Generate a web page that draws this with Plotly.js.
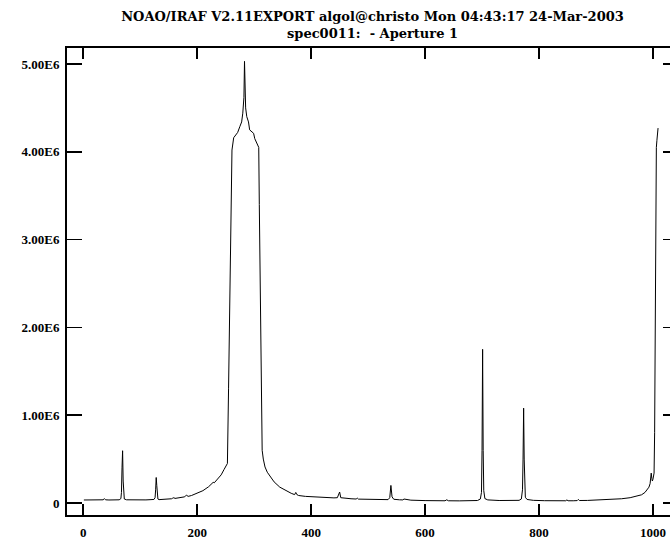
<!DOCTYPE html>
<html>
<head>
<meta charset="utf-8">
<script src="https://cdn.plot.ly/plotly-3.0.1.min.js"></script>
<style>
html, body { margin: 0; padding: 0; overflow: hidden; background: #fff; }
#chart { width: 690px; height: 540px; }
</style>
</head>
<body>
<div id="chart"></div>
<script>
// Pixel (column) coordinates of the spectrum samples
const pixel = [1, 10, 20, 30, 35, 37, 39, 45, 55, 63, 66, 67, 68, 69, 70, 71, 72, 76, 90, 110,
  124, 126, 127, 128, 129, 130, 131, 133, 145, 155, 157, 159, 161, 170, 178, 181, 184, 190, 200, 210,
  220, 226, 228, 230, 236, 242, 247, 250, 253, 255, 257, 258, 259, 261, 264, 268, 271, 275, 278, 280,
  281, 282, 283, 284, 285, 287, 290, 292, 296, 299, 301, 304, 306, 308, 309, 310, 312, 313, 314, 316,
  319, 323, 328, 335, 345, 355, 365, 371, 373, 375, 378, 390, 405, 425, 440, 446, 448, 450, 452, 460,
  470, 479, 481, 483, 495, 515, 535, 538, 540, 542, 545, 555, 561, 563, 575, 600, 620, 635, 638, 641,
  660, 680, 692, 697, 699, 700, 701, 702, 703, 705, 710, 730, 750, 765, 769, 771, 772, 773, 774, 775,
  776, 779, 790, 810, 830, 847, 849, 851, 860, 867, 869, 871, 885, 905, 925, 945, 960, 970, 980, 986,
  990, 993, 995, 996, 997, 998, 999, 1000, 1001, 1002, 1003, 1004, 1005, 1006, 1007, 1008, 1009];

// Flux values (counts)
const flux = [34000, 34000, 33000, 34000, 36000, 50000, 36000, 34000, 34000, 36000, 50000, 120000, 400000, 595000, 250000, 80000, 45000, 36000, 34000, 35000,
  40000, 60000, 150000, 290000, 200000, 70000, 45000, 38000, 42000, 48000, 55000, 60000, 52000, 60000, 70000, 90000, 75000, 85000, 110000, 140000,
  185000, 220000, 235000, 230000, 270000, 320000, 380000, 420000, 450000, 1300000, 2300000, 2880000, 3450000, 4020000, 4160000, 4190000, 4220000, 4290000, 4340000, 4440000,
  4500000, 4620000, 5030000, 4620000, 4500000, 4400000, 4340000, 4250000, 4230000, 4210000, 4150000, 4100000, 4080000, 4050000, 3400000, 2880000, 1740000, 900000, 600000, 500000,
  410000, 350000, 300000, 240000, 180000, 140000, 110000, 95000, 120000, 95000, 85000, 75000, 68000, 62000, 58000, 60000, 100000, 125000, 60000, 52000,
  48000, 45000, 55000, 44000, 42000, 40000, 38000, 60000, 200000, 70000, 42000, 36000, 35000, 45000, 32000, 27000, 25000, 25000, 36000, 25000,
  24000, 24000, 28000, 45000, 120000, 600000, 1750000, 600000, 140000, 50000, 35000, 28000, 27000, 30000, 45000, 150000, 500000, 1080000, 500000, 140000,
  65000, 40000, 30000, 26000, 25000, 25000, 35000, 25000, 25000, 27000, 40000, 28000, 29000, 33000, 39000, 48000, 60000, 73000, 93000, 120000,
  150000, 180000, 220000, 260000, 340000, 280000, 250000, 270000, 300000, 340000, 800000, 2500000, 3950000, 4050000, 4130000, 4200000, 4270000];

const xTicks = [0, 200, 400, 600, 800, 1000];
const yTicks = [0, 1000000, 2000000, 3000000, 4000000, 5000000];
const yTickText = ["0", "1.00E6", "2.00E6", "3.00E6", "4.00E6", "5.00E6"];
const titleLines = ["NOAO/IRAF V2.11EXPORT algol@christo Mon 04:43:17 24-Mar-2003", "spec0011:  - Aperture 1"];

const titleFam = "DejaVu Serif, Liberation Serif, serif";
const tickFam = "Liberation Serif, serif";

const trace = {
  x: pixel, y: flux, type: "scatter", mode: "lines",
  line: { color: "#000", width: 1 }, hoverinfo: "skip"
};

const layout = {
  width: 690, height: 540,
  margin: { l: 67, r: 12, t: 48, b: 25, pad: 0 },
  paper_bgcolor: "#fff", plot_bgcolor: "#fff",
  showlegend: false,
  title: {
    text: titleLines.join("<br>"),
    font: { family: titleFam, size: 13, color: "#000", weight: "bold" },
    x: 0.5, xref: "paper", xanchor: "center",
    y: 1 - 21 / 540, yref: "container", yanchor: "top"
  },
  xaxis: {
    range: [-28.6, 1044], tickvals: xTicks, ticktext: xTicks.map(String),
    ticks: "inside", ticklen: 11, tickwidth: 1.6, tickcolor: "#000",
    showline: true, linecolor: "#000", linewidth: 2, mirror: "allticks",
    showgrid: false, zeroline: false,
    tickfont: { family: tickFam, size: 13, color: "#000", weight: "bold" },
    ticklabelstandoff: 4
  },
  yaxis: {
    range: [-137000, 5182000], tickvals: yTicks, ticktext: yTickText,
    ticks: "inside", ticklen: 15, tickwidth: 1.6, tickcolor: "#000",
    showline: true, linecolor: "#000", linewidth: 2, mirror: "allticks",
    showgrid: false, zeroline: false,
    tickfont: { family: tickFam, size: 13, color: "#000", weight: "bold" },
    ticklabelstandoff: 3
  }
};

Plotly.newPlot("chart", [trace], layout, { staticPlot: true, displayModeBar: false });
</script>
</body>
</html>
